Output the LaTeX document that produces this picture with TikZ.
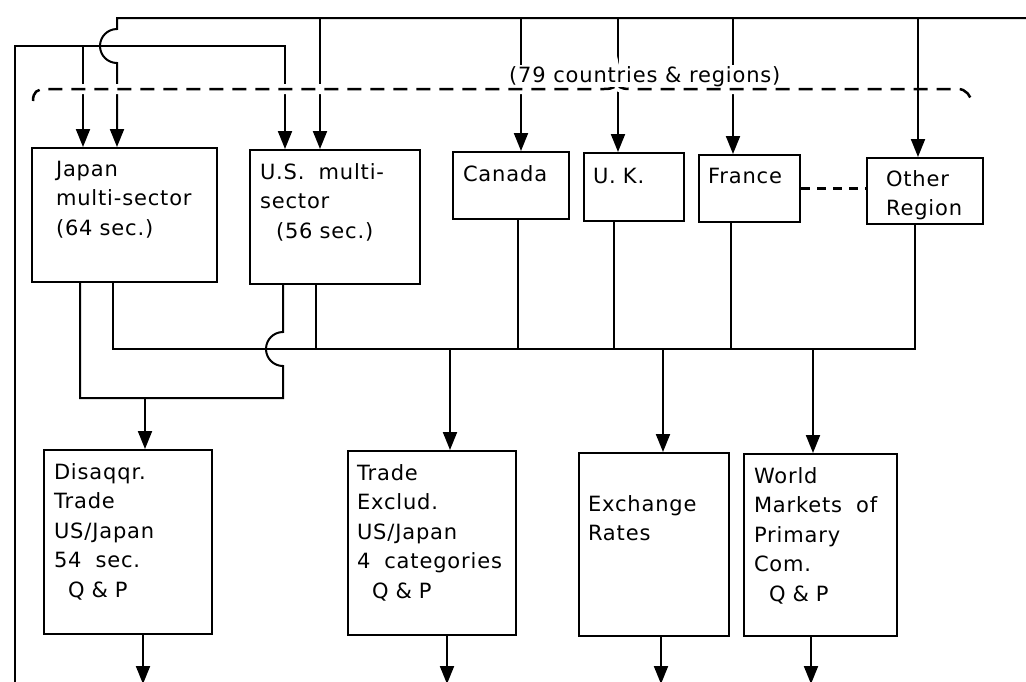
\documentclass[tikz,border=0pt]{standalone}
\usepackage{fontspec}
\setmainfont[LetterSpace=4]{DejaVu Sans}
\usepackage{tikz}
\usetikzlibrary{arrows.meta}
\tikzset{
    link/.style={
        line width=2pt
    },
    arrow/.style={
        -{Triangle[length=18pt,width=14pt]},
        line width=2pt
    }
}
\tikzstyle{box} = [rectangle, draw=black, line width=2pt, anchor=north west, align=left, inner sep=0pt, font=\fontsize{21}{29.5}\selectfont]

\begin{document}
\begin{tikzpicture}[x=1pt,y=-1pt]
          \useasboundingbox (0,0) rectangle (1026,681);
          \node (japan) [box, minimum width=185pt, text width=137pt, text height=28pt, text depth=106pt] at (31,147) {Japan\\multi-sector\\(64 sec.)};
          \node (us) [box, minimum width=170pt, text width=150pt, text height=29pt, text depth=105pt] at (249,149) {U.S.~~multi-\\sector\\\hspace*{16pt}(56 sec.)};
          \node (canada) [box, minimum width=116pt, text width=96pt, text height=29pt, text depth=38pt] at (452,151) {Canada};
          \node (uk) [box, minimum width=100pt, text width=82pt, text height=30pt, text depth=38pt] at (583,152) {U. K.};
          \node (france) [box, minimum width=101pt, text width=83pt, text height=28pt, text depth=39pt] at (698,154) {France};
          \node (other) [box, minimum width=116pt, text width=78pt, text height=28pt, text depth=38pt] at (866,157) {Other\\Region};
          \node (disagg) [box, minimum width=168pt, text width=148pt, text height=29pt, text depth=155pt] at (43,449) {Disaqqr.\\Trade\\US/Japan\\54~~sec.\\\hspace*{14pt}Q \& P};
          \node (trade) [box, minimum width=168pt, text width=150pt, text height=29pt, text depth=155pt] at (347,450) {Trade\\Exclud.\\US/Japan\\4~~categories\\\hspace*{15pt}Q \& P};
          \node (exch) [box, minimum width=150pt, text width=132pt, text height=58pt, text depth=125pt] at (578,452) {Exchange\\Rates};
          \node (world) [box, minimum width=153pt, text width=133pt, text height=29pt, text depth=153pt] at (743,453) {World\\Markets~~of\\Primary\\Com.\\\hspace*{15pt}Q \& P};
          \coordinate (fbot) at (15,684);
          \coordinate (fjp) at (83,46);
          \coordinate (fus) at (285,46);
          \coordinate (tright) at (1030,18);
          \coordinate (tjp) at (117,18);
          \draw [arrow] (fbot) |- (fus) -- (fus |- us.north);
          \draw [arrow] (fjp) -- (fjp |- japan.north);
          \draw [arrow] (tright) -- (tjp) -- ++(0,11) arc[start angle=270, end angle=90, radius=17] -- (tjp |- japan.north);
          \foreach \x/\n in {320/us, 521/canada, 618/uk, 733/france}
              \draw [arrow] (\x,18) -- (\x,18 |- \n.north);
          \draw [line width=2.5pt, dash pattern=on 14pt off 9pt, preaction={draw=white, solid, line width=10pt}] (33,101) .. controls (33,92) and (37,89) .. (46,89) -- (604,89) .. controls (613,89) and (617,87) .. (617,81) .. controls (617,87) and (621,89) .. (630,89) -- (958,89) .. controls (966,89) and (971,96) .. (972,103);
          \node (regions) [fill=white, inner xsep=2pt, inner ysep=1pt, anchor=base west, font=\fontsize{21}{25}\selectfont] at (507,82) {(79 countries \& regions)};
          \draw [arrow] (918,18) -- (918,18 |- other.north);
          \draw [line width=2.5pt, dash pattern=on 9pt off 7pt] (france.east) -- (france.east -| other.west);
          \coordinate (bl) at (113,349);
          \coordinate (br) at (915,349);
          \draw [link] (bl |- japan.south) -- (bl) -- (br) -- (br |- other.south);
          \foreach \x/\n in {316/us, 518/canada, 614/uk, 731/france}
              \draw [link] (\x,349 |- \n.south) -- (\x,349);
          \coordinate (dj) at (80,398);
          \coordinate (du) at (283,398);
          \coordinate (dd) at (145,398);
          \draw [link] (dj |- japan.south) -- (dj) -- (du) -- (283,366) arc[start angle=90, end angle=270, radius=17] -- (du |- us.south);
          \draw [arrow] (dd) -- (dd |- disagg.north);
          \foreach \x/\n in {450/trade, 663/exch, 813/world}
              \draw [arrow] (\x,349) -- (\x,349 |- \n.north);
          \foreach \x/\n in {143/disagg, 447/trade, 661/exch, 811/world}
              \draw [arrow] (\x,0 |- \n.south) -- (\x,684);
        \end{tikzpicture}
\end{document}
